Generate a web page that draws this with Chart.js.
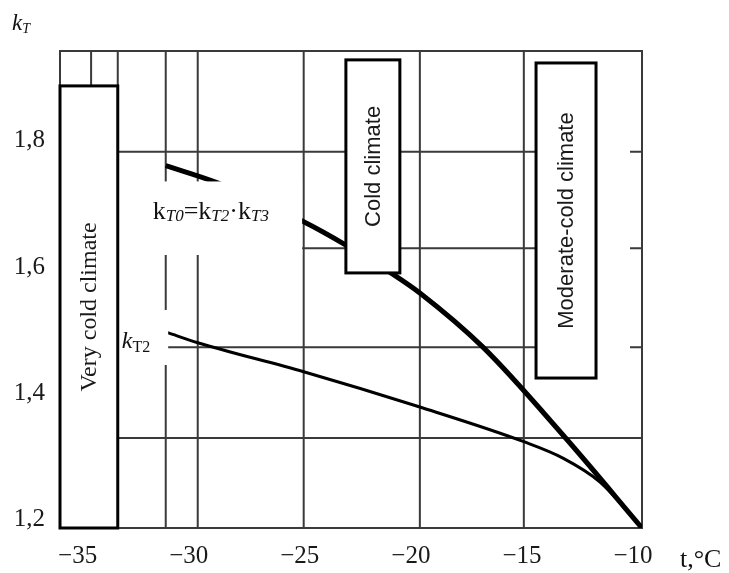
<!DOCTYPE html>
<html><head><meta charset="utf-8">
<script src="https://cdn.jsdelivr.net/npm/chart.js@4"></script>
<style>html,body{margin:0;padding:0;background:#fff;}#wrap{width:729px;height:573px;}</style>
</head><body>
<div id="wrap"><canvas id="c" width="729" height="573"></canvas></div>
<script>
// ---- data ----
const kT0_t = [-31.44, -29.14, -25.23, -23.33, -21.22, -20.0, -17.16, -13.47, -10.0];
const kT0_k = [1.775, 1.748, 1.686, 1.649, 1.603, 1.573, 1.487, 1.344, 1.2];
const kT2_t = [-31.35, -30.0, -25.23, -20.0, -15.32, -13.56, -11.89, -10.0];
const kT2_k = [1.51, 1.494, 1.448, 1.392, 1.337, 1.311, 1.273, 1.2];
const xTicks = [-35, -30, -25, -20, -15, -10];
const yTicks = [1.2, 1.4, 1.6, 1.8];
const xGridLines = [-34.8, -33.6, -31.44, -30, -25.23, -20, -15.32];
const yGridLines = [1.343, 1.487, 1.644, 1.797];
const xRange = [-36.2, -10];
const yRange = [1.2, 1.957];

const SERIF = '"Liberation Serif", "Times New Roman", serif';
const SANS = '"Liberation Sans", Arial, sans-serif';

// annotation layout (data coordinates)
const masks = [
  {x0: -33.6, x1: -25.3, y0: 1.6333, y1: 1.75},
  {x0: -33.6, x1: -31.33, y0: 1.4587, y1: 1.546},
  {x0: -14.77, x1: -10.54, y0: 1.438, y1: 1.938}
];
const boxes = [
  {x0: -36.2, x1: -33.6, y0: 1.2, y1: 1.9016, text: 'Very cold climate', font: '24px ' + SERIF},
  {x0: -23.33, x1: -20.9, y0: 1.6048, y1: 1.9429, text: 'Cold climate', font: '22px ' + SANS},
  {x0: -14.77, x1: -12.07, y0: 1.438, y1: 1.938, text: 'Moderate-cold climate', font: '22px ' + SANS}
];

function drawPieces(ctx, pieces, x, y, center) {
  let total = 0;
  pieces.forEach(p => { ctx.font = p.f; p.w = ctx.measureText(p.t).width; total += p.w; });
  let cx = center ? x - total / 2 : x;
  pieces.forEach(p => { ctx.font = p.f; ctx.fillText(p.t, cx, y + (p.dy || 0)); cx += p.w; });
}

const gridPlugin = {
  id: 'grid',
  beforeDatasetsDraw(chart) {
    const {ctx, chartArea: a, scales: {x, y}} = chart;
    ctx.save();
    ctx.strokeStyle = '#3a3a3a';
    ctx.lineWidth = 2;
    ctx.beginPath();
    xGridLines.forEach(v => { const px = x.getPixelForValue(v); ctx.moveTo(px, a.top); ctx.lineTo(px, a.bottom); });
    yGridLines.forEach(v => { const py = y.getPixelForValue(v); ctx.moveTo(a.left, py); ctx.lineTo(a.right, py); });
    ctx.stroke();
    ctx.strokeRect(a.left, a.top, a.right - a.left, a.bottom - a.top);
    ctx.restore();
  },
  afterDatasetsDraw(chart) {
    const {ctx, chartArea: a, scales: {x, y}} = chart;
    ctx.save();
    ctx.fillStyle = '#fff';
    masks.forEach(m => {
      const l = x.getPixelForValue(m.x0), r = x.getPixelForValue(m.x1);
      const t = y.getPixelForValue(m.y1), b = y.getPixelForValue(m.y0);
      ctx.fillRect(l, t, r - l, b - t);
    });
    boxes.forEach(bx => {
      const l = x.getPixelForValue(bx.x0), r = x.getPixelForValue(bx.x1);
      const t = y.getPixelForValue(bx.y1), b = y.getPixelForValue(bx.y0);
      ctx.fillStyle = '#fff';
      ctx.fillRect(l, t, r - l, b - t);
      ctx.strokeStyle = '#000';
      ctx.lineWidth = 3;
      ctx.strokeRect(l, t, r - l, b - t);
      ctx.save();
      ctx.translate((l + r) / 2, (t + b) / 2);
      ctx.rotate(-Math.PI / 2);
      ctx.fillStyle = '#1a1a1a';
      ctx.font = bx.font;
      ctx.textAlign = 'center';
      ctx.textBaseline = 'middle';
      ctx.fillText(bx.text, 0, 1);
      ctx.restore();
    });
    ctx.fillStyle = '#111';
    ctx.textAlign = 'left';
    ctx.textBaseline = 'alphabetic';
    const R = '26px ' + SERIF, I = 'italic 17px ' + SERIF;
    // formula label
    drawPieces(ctx, [
      {t: 'k', f: R}, {t: 'T0', f: I, dy: 2}, {t: '=', f: R}, {t: 'k', f: R}, {t: 'T2', f: I, dy: 2},
      {t: '·', f: R}, {t: 'k', f: R}, {t: 'T3', f: I, dy: 2}
    ], x.getPixelForValue(-29.41), y.getPixelForValue(1.6905), true);
    // kT2 label
    drawPieces(ctx, [
      {t: 'k', f: 'italic 24px ' + SERIF}, {t: 'T2', f: '16px ' + SERIF, dy: 4}
    ], x.getPixelForValue(-33.42), y.getPixelForValue(1.4857), false);
    // axis titles
    drawPieces(ctx, [
      {t: 'k', f: 'italic 23px ' + SERIF}, {t: 'T', f: 'italic 14px ' + SERIF, dy: 3}
    ], a.left - 48, a.top - 21, false);
    ctx.font = '26px ' + SERIF;
    ctx.fillText('t,\u00B0C', a.right + 38, a.bottom + 39);
    ctx.restore();
  }
};

const pts = (ts, ks) => ts.map((t, i) => ({x: t, y: ks[i]}));

new Chart(document.getElementById('c'), {
  type: 'scatter',
  data: {
    datasets: [
      {label: 'kT0', data: pts(kT0_t, kT0_k), showLine: true, borderColor: '#000', borderWidth: 5,
       pointRadius: 0, cubicInterpolationMode: 'monotone', borderCapStyle: 'butt'},
      {label: 'kT2', data: pts(kT2_t, kT2_k), showLine: true, borderColor: '#000', borderWidth: 3,
       pointRadius: 0, cubicInterpolationMode: 'monotone'}
    ]
  },
  options: {
    responsive: false,
    animation: false,
    layout: {padding: {top: 51, right: 87, left: 0, bottom: 0}},
    plugins: {legend: {display: false}, tooltip: {enabled: false}},
    scales: {
      x: {
        type: 'linear', min: xRange[0], max: xRange[1],
        afterBuildTicks: s => { s.ticks = xTicks.map(v => ({value: v})); },
        afterFit: s => { s.height = 45; },
        grid: {display: false, drawTicks: false}, border: {display: false},
        ticks: {autoSkip: false, maxRotation: 0, padding: 13, labelOffset: -9, color: '#1a1a1a',
          font: {family: SERIF, size: 25},
          callback: v => '\u2212' + Math.abs(v)}
      },
      y: {
        type: 'linear', min: yRange[0], max: yRange[1],
        afterBuildTicks: s => { s.ticks = yTicks.map(v => ({value: v})); },
        afterFit: s => { s.width = 60; },
        grid: {display: false, drawTicks: false}, border: {display: false},
        ticks: {autoSkip: false, padding: 15, labelOffset: -9, color: '#1a1a1a',
          font: {family: SERIF, size: 25},
          callback: v => v.toFixed(1).replace('.', ',')}
      }
    }
  },
  plugins: [gridPlugin]
});
</script>
</body></html>
